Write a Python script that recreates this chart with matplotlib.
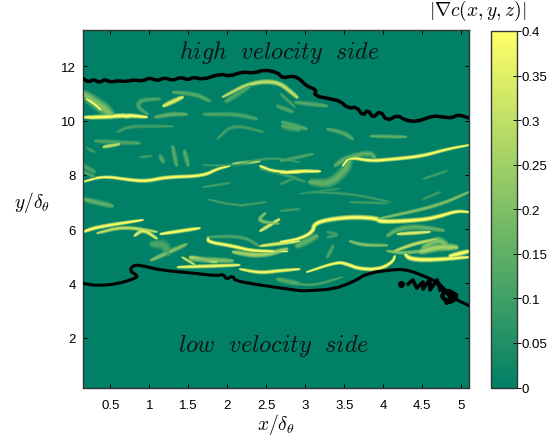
import numpy as np
import matplotlib
matplotlib.use('Agg')
import matplotlib.pyplot as plt
from matplotlib.collections import LineCollection
from matplotlib.cm import ScalarMappable
from matplotlib.colors import Normalize

plt.rcParams['font.family'] = ['Liberation Sans', 'DejaVu Sans']
plt.rcParams['mathtext.fontset'] = 'cm'

# interface contours
upper_x = [.15, .22, .29, .36, .43, .5, .6, .7, .8, .92, 1.0, 1.1, 1.2, 1.3, 1.4, 1.5, 1.56, 1.69, 1.91, 2.03,
           2.2, 2.33, 2.48, 2.64, 2.71, 2.84, 2.93, 3.02, 3.14, 3.12, 3.32, 3.44, 3.55, 3.66, 3.74, 3.8, 3.87,
           3.96, 4.05, 4.18, 4.28, 4.43, 4.64, 4.77, 4.88, 4.96, 5.1]
upper_y = [11.55, 11.42, 11.52, 11.4, 11.52, 11.42, 11.47, 11.44, 11.5, 11.46, 11.58, 11.47, 11.58, 11.48, 11.6,
           11.5, 11.6, 11.52, 11.72, 11.64, 11.8, 11.75, 11.87, 11.78, 11.57, 11.65, 11.53, 11.27, 11.14, 10.92,
           10.8, 10.73, 10.46, 10.5, 10.18, 10.4, 10.1, 10.36, 9.99, 10.2, 10.02, 9.96, 10.18, 10.13, 10.1, 10.22, 10.1]
lower_x = [.15, .33, .59, .82, .85, .75, .79, .87, 1.15, 1.56, 1.87, 1.95, 1.99, 2.07, 2.1, 2.42, 2.93, 3.02, 3.36,
           3.61, 3.8, 4.18, 4.34, 4.51, 4.69, 4.82, 4.92, 5.1]
lower_y = [4.0, 3.92, 3.98, 4.19, 4.28, 4.47, 4.65, 4.68, 4.49, 4.38, 4.28, 4.34, 4.15, 4.28, 4.1, 3.94, 3.73, 3.73,
           3.79, 4.05, 4.38, 4.53, 4.47, 4.29, 4.05, 3.68, 3.43, 3.18]
curl_x = [4.32, 4.38, 4.43, 4.51, 4.51, 4.6, 4.6, 4.69, 4.73]
curl_y = [3.98, 4.13, 3.83, 4.05, 3.79, 4.16, 3.76, 4.13, 3.76]
blob_x = [4.72, 4.9, 4.78, 4.98, 4.8, 4.74, 4.92, 4.85]
blob_y = [3.95, 3.4, 3.25, 3.5, 3.8, 3.45, 3.3, 3.65]
spot_x = [4.23]
spot_y = [3.98]

# gradient sheets: peak value, thickness and centre line of each one
strand_v = [.2, .4, .4, .12, .35, .13, .15, .1, .12, .1, .12, .3, .13, .13, .13, .3, .12, .1, .13, .13, .13, .15, .15,
            .4, .4, .3, .12, .35, .35, .15, .1, .1, .2, .4, .12, .2, .35, .12, .3, .3, .1, .4, .4, .2,
            .4, .38, .38, .3, .4, .4, .3, .35, .2, .2, .2, .1, .12, .15, .1, .1, .1, .15, .1, .15, .1,
            .4, .4, .4, .12, .25, .2, .12, .13, .12, .25, .1, .1, .13, .12, .1, .1, .08]
strand_w = [6, 2.5, 2, 2.5, 2.5, 2.5, 2.5, 2, 2.5, 2, 2.5, 2, 2.5, 2.5, 2.5, 2.5, 3, 2, 2.5, 2.5, 2.5, 2, 3,
            2, 2, 2, 2, 2, 2, 3, 1.5, 1.5, 2, 2, 2, 2.5, 2, 5, 1.5, 2, 2, 2.5, 2, 2,
            2, 2, 2, 2.5, 2.5, 2.5, 2, 2, 4, 2, 2, 2, 2, 4, 1.5, 1.5, 1.5, 5, 1.5, 3, 1.5,
            2, 2, 2, 2.5, 3, 3, 1.5, 3, 2, 4, 1.5, 1.5, 3.5, 2.5, 1.5, 1.5, 1.5]
strand_x = [[.15, .3, .43, .52], [.15, .41, .71, .97], [.2, .3, .38], [1.14, .88, .85, .98], [1.18, 1.3, 1.43],
            [1.3, 1.59, 1.78], [1.07, 1.29, 1.48], [.59, .75, 1.3], [1.69, 2.12, 2.38], [1.87, 2.07, 2.46],
            [.3, .58, .88], [.41, .62], [1.3, 1.35], [1.14, 1.18], [1.45, 1.5], [1.94, 2.29, 2.64, 2.84, 2.9],
            [1.98, 2.3], [2.68, 2.87], [2.87, 3.28], [2.7, 3.02], [3.28, 3.5, 3.61], [3.83, 4.3],
            [3.38, 3.5, 3.83, 3.9], [.15, .33, .92], [1.14, 1.65], [.33, .67, 1.1], [2.68, 3.1],
            [.81, .92, 1.1], [2.67, 2.42], [.15, .53], [1.69, 2.03], [1.75, 2.13, 2.5], [2.49, 2.38, 2.66],
            [1.75, 1.75, 2.07, 2.33, 2.77], [1.75, 2.2, 2.42], [1.02, 1.48], [2.42, 2.93],
            [1.03, 1.2, 1.24], [1.42, 1.58], [2.07, 2.42], [2.42, 2.71, 3.0],
            [2.68, 2.93, 3.1, 3.12, 3.53, 3.92, 3.96, 4.51, 4.73, 4.94, 5.1],
            [2.42, 2.59, 2.93], [3.92, 4.69, 5.1],
            [3.02, 3.41, 3.53, 3.7, 3.96, 4.12, 4.15], [2.16, 2.42, 2.64, 2.93], [1.36, 1.78, 2.16], [1.52, 1.87],
            [4.28, 4.34, 4.6, 5.1], [4.85, 5.1], [4.12, 4.38, 4.69], [4.18, 4.6], [4.51, 4.69, 4.82],
            [3.57, 3.74, 4.05], [4.05, 4.28, 4.7], [3.28, 3.43, 3.28], [3.28, 3.36], [2.89, 3.15],
            [4.51, 4.73], [4.51, 4.82], [3.09, 3.61, 4.09], [3.06, 3.32, 3.53, 3.57], [3.57, 4.05],
            [4.05, 4.18, 4.43, 4.78], [1.69, 2.07, 2.55, 2.93],
            [.15, .41, .76, .97, 1.22, 1.69, 1.87, 2.03], [2.68, 2.93, 3.19], [3.48, 3.57, 3.83, 4.13, 4.51, 4.82, 5.1],
            [.15, .3], [2.07, 2.42, 2.77], [1.52, 2.07], [2.68, 3.06, 3.48], [2.64, 2.93], [.15, .3],
            [4.47, 4.69, 4.94], [2.68, 2.84], [2.68, 2.93], [2.71, 2.93], [2.64, 2.84], [.2, .3], [.88, 1.03],
            [2.93, 3.45]]
strand_y = [[11.0, 10.68, 10.43, 10.17], [10.13, 10.13, 10.2, 10.13], [10.8, 10.62, 10.4], [10.8, 10.76, 10.5, 10.24],
            [10.54, 10.7, 10.87], [11.05, 10.98, 10.72], [10.13, 10.24, 10.24], [9.58, 9.8, 9.8], [10.24, 10.24, 10.06],
            [9.32, 9.87, 9.58], [9.25, 9.2, 9.17], [9.03, 9.14], [9.06, 8.33], [8.7, 8.47], [8.9, 8.33],
            [10.87, 11.39, 11.46, 11.0, 10.85], [10.7, 11.3], [11.0, 10.5], [10.68, 10.54], [9.95, 9.69],
            [9.69, 9.55, 9.32], [9.43, 9.4], [8.33, 8.6, 8.85, 8.6], [5.9, 6.08, 6.34], [5.82, 6.04], [5.85, 6.1, 5.9],
            [8.51, 8.77], [5.75, 6.0, 5.65], [6.37, 5.93], [7.11, 6.85], [7.55, 7.7], [7.1, 6.85, 7.0],
            [6.6, 6.3, 6.2], [5.71, 5.53, 5.38, 5.19, 5.19], [5.71, 5.75, 5.35], [4.85, 5.45], [5.38, 5.56],
            [5.45, 5.45, 5.1], [4.97, 4.7], [8.4, 8.51], [8.22, 8.05, 7.74],
            [5.53, 5.64, 5.9, 6.26, 6.45, 6.41, 6.26, 6.34, 6.48, 6.67, 6.63], [8.33, 8.11, 8.11], [6.37, 6.85, 7.37],
            [4.42, 4.79, 4.72, 4.53, 4.53, 4.79, 5.01], [4.53, 4.39, 4.46, 4.53], [4.6, 4.64, 4.68], [4.97, 4.79],
            [5.08, 4.9, 4.86, 4.97], [5.01, 5.19], [5.16, 5.45, 5.64], [5.82, 5.9], [5.3, 5.64, 5.4],
            [5.56, 5.41, 5.41], [5.2, 5.1, 5.3], [5.9, 5.8, 5.7], [4.95, 5.4], [5.38, 5.75],
            [7.11, 7.37], [7.85, 8.15], [7.37, 7.3, 7.0], [7.74, 7.66, 8.22, 8.58], [7.0, 6.95],
            [5.75, 6.0, 6.1, 5.95], [8.36, 8.33, 8.66, 8.47],
            [7.74, 7.96, 7.81, 7.77, 7.92, 7.96, 8.22, 8.33], [8.07, 8.14, 8.14], [8.33, 8.66, 8.51, 8.58, 8.7, 8.95, 9.1],
            [8.35, 8.1], [5.16, 5.01, 5.27], [4.9, 4.83], [4.16, 3.87, 4.24], [4.16, 3.98], [8.14, 7.92],
            [5.16, 5.34, 5.34], [7.66, 7.85], [6.67, 6.74], [9.8, 9.69], [10.54, 10.32], [8.99, 8.84], [8.65, 8.7],
            [7.3, 7.5]]

xticks = [.5, 1, 1.5, 2, 2.5, 3, 3.5, 4, 4.5, 5]
xlabels = ['0.5', '1', '1.5', '2', '2.5', '3', '3.5', '4', '4.5', '5']
yticks = [2, 4, 6, 8, 10, 12]
cticks = [0, .05, .1, .15, .2, .25, .3, .35, .4]
clabels = ['0', '0.05', '0.1', '0.15', '0.2', '0.25', '0.3', '0.35', '0.4']


def smooth(x, y, n=3):
    # corner cutting so the read-off points do not look kinked
    p = np.column_stack([x, y])
    for i in range(n):
        q = .75 * p[:-1] + .25 * p[1:]
        r = .25 * p[:-1] + .75 * p[1:]
        mid = np.empty((2 * len(q), 2))
        mid[0::2] = q
        mid[1::2] = r
        p = np.vstack([p[:1], mid, p[-1:]])
    return p


fig = plt.figure(figsize=(5.56, 4.39), dpi=100)
ax = fig.add_axes([83 / 556, 1 - 388.5 / 439, 386 / 556, 357.5 / 439])
ax.set_facecolor(plt.cm.summer(0.0))
norm = Normalize(0, .4)

for frac, wf in zip([.3, .55, .8, 1.0], [1.6, 1.25, .9, .5]):
    for v, w, x, y in zip(strand_v, strand_w, strand_x, strand_y):
        p = smooth(x, y)
        t = np.linspace(0, 1, len(p) - 1)
        lw = w * wf * np.sin(np.pi * (.04 + .92 * t)) ** .45
        seg = np.stack([p[:-1], p[1:]], axis=1)
        col = plt.cm.summer(norm(v * frac))
        ax.add_collection(LineCollection(seg, colors=[col], linewidths=lw, capstyle='round', zorder=2))

p = smooth(upper_x, upper_y, 1)
ax.plot(p[:, 0], p[:, 1], color='k', lw=2.5, zorder=4)
p = smooth(lower_x, lower_y, 1)
ax.plot(p[:, 0], p[:, 1], color='k', lw=2.2, zorder=4)
ax.plot(curl_x, curl_y, color='k', lw=2.6, zorder=4)
p = smooth(blob_x, blob_y, 1)
ax.plot(p[:, 0], p[:, 1], color='k', lw=3, zorder=4)
ax.plot(spot_x, spot_y, 'o', color='k', ms=4, zorder=4)

ax.set_xlim(.15, 5.1)
ax.set_ylim(.165, 13.34)
ax.set_xticks(xticks)
ax.set_xticklabels(xlabels)
ax.set_yticks(yticks)
ax.tick_params(direction='in', top=True, right=True, labelsize=9.5, length=3, width=.7, pad=5)
ax.tick_params(axis='x', pad=8)
for s in ax.spines.values():
    s.set_color('#333333')
    s.set_linewidth(1.0)
ax.set_xlabel(r'$x/\delta_\theta$', fontsize=14, labelpad=0.5)
ax.set_ylabel(r'$y/\delta_\theta$', fontsize=14, rotation=0, labelpad=21, y=.519, va='center')
ax.text(2.67, 12.56, r'$high\ \ velocity\ \ side$', fontsize=17.3, ha='center', va='center', color='#111111')
ax.text(2.6, 1.72, r'$low\ \ velocity\ \ side$', fontsize=17.5, ha='center', va='center', color='#111111')

cax = fig.add_axes([491 / 556, 1 - 388.5 / 439, 26 / 556, 356.5 / 439])
cb = fig.colorbar(ScalarMappable(norm=norm, cmap='summer'), cax=cax)
cb.set_ticks(cticks)
cb.set_ticklabels(clabels)
cax.tick_params(direction='inout', labelsize=9.5, length=6, width=.7, pad=0)
cb.outline.set_edgecolor('#333333')
cb.outline.set_linewidth(1.0)
fig.text(478 / 556, 1 - 11 / 439, r'$|\nabla c(x,y,z)|$', fontsize=14, ha='center', va='center')

fig.savefig('out.png', dpi=100)
